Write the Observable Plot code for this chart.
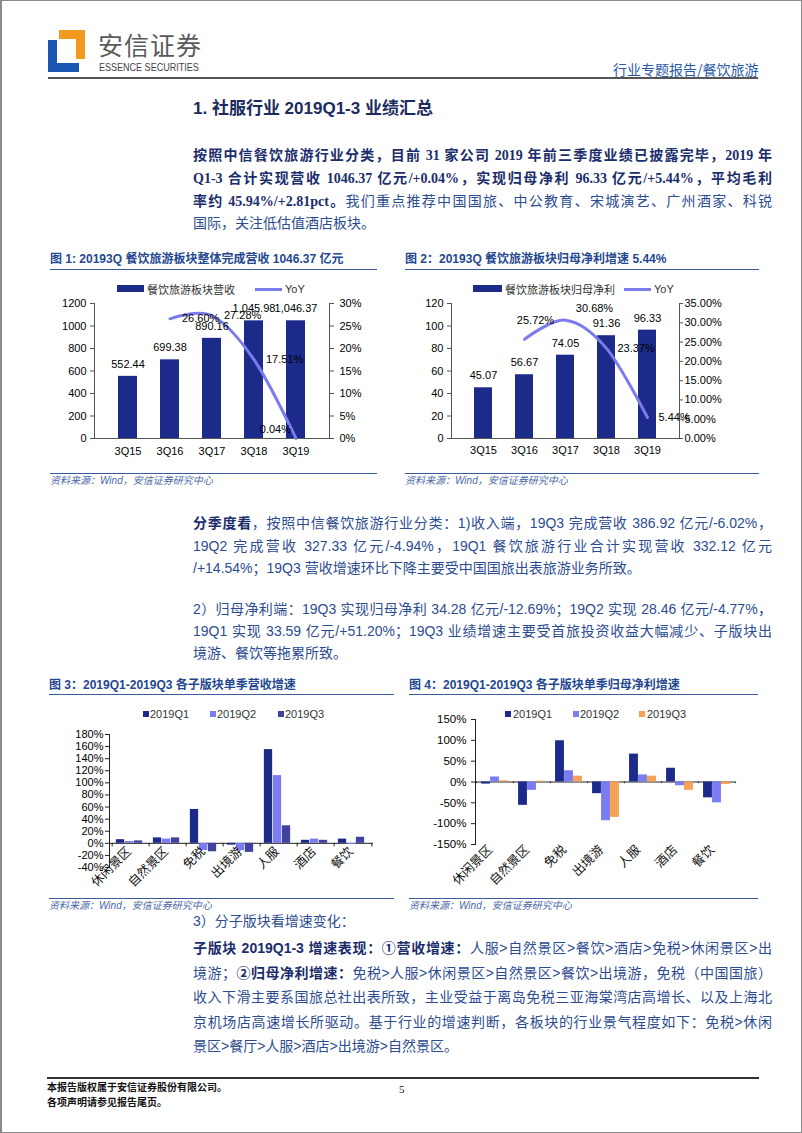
<!DOCTYPE html>
<html><head><meta charset="utf-8">
<script src="https://cdn.jsdelivr.net/npm/d3@7"></script>
<script src="https://cdn.jsdelivr.net/npm/@observablehq/plot@0.6"></script>
<style>
html,body{margin:0;padding:0;background:#fff;}
#page{position:relative;width:802px;height:1133px;overflow:hidden;box-sizing:border-box;border:1px solid #8a8a8a;border-left:2px solid #8a8a8a;font-family:"Noto Sans CJK SC","Liberation Sans",sans-serif;background:#fff;}
.a{position:absolute;white-space:nowrap;line-height:20px;}
.p{position:absolute;left:191px;width:579px;line-height:20px;font-size:14px;text-align:justify;text-align-last:justify;color:#2d4c8f;white-space:normal;}
.p.last{text-align-last:left;}
.serif{font-family:"Liberation Serif","Noto Sans CJK SC",serif;}
.sans{font-family:"Liberation Sans","Noto Sans CJK SC",sans-serif;}
b{color:#1b2d6b;font-weight:bold;}
.ctitle{position:absolute;font-size:12px;font-weight:bold;color:#24478f;line-height:20px;white-space:nowrap;font-family:"Liberation Sans","Noto Sans CJK SC",sans-serif;}
.uline{position:absolute;height:0;border-top:1.5px solid #3a5aa0;}
.src{position:absolute;font-size:10px;font-style:italic;color:#4a68a8;line-height:20px;white-space:nowrap;font-family:"Liberation Sans","Noto Sans CJK SC",sans-serif;}
.chart{position:absolute;}
.leg{position:absolute;font-size:11px;line-height:14px;white-space:nowrap;color:#333;font-family:"Liberation Sans","Noto Sans CJK SC",sans-serif;}
.sw{position:absolute;}
</style>
</head><body><div id="page">
<svg class="a" style="left:46px;top:29px" width="38" height="43">
 <polygon points="11,0 37,0 37,29 28,29 28,9 11,9" fill="#f39a1e"/>
 <polygon points="0,10 9,10 9,33 31,33 31,42 0,42" fill="#1b57b3"/>
</svg>
<div class="a" style="left:96px;top:28px;font-size:25px;line-height:30px;color:#5a5a5a;letter-spacing:1px">安信证券</div>
<div class="a" style="left:97px;top:59px;font-size:11px;line-height:14px;color:#444;font-family:'Liberation Sans',sans-serif;transform:scaleX(0.82);transform-origin:left">ESSENCE SECURITIES</div>
<div class="a" style="left:611px;top:58px;font-size:14px;color:#2a58a8">行业专题报告/餐饮旅游</div>
<div class="a" style="left:46px;top:76px;width:710px;height:2px;background:#555"></div>

<div class="a" style="left:191px;top:97px;font-size:17px;line-height:22px;font-weight:bold;color:#1b2b5e;font-family:'Liberation Sans','Noto Sans CJK SC',sans-serif">1. 社服行业 2019Q1-3 业绩汇总</div>

<div class="p serif" style="top:145px"><b>按照中信餐饮旅游行业分类，目前 31 家公司 2019 年前三季度业绩已披露完毕，2019 年</b></div>
<div class="p serif" style="top:168px"><b>Q1-3 合计实现营收 1046.37 亿元/+0.04%，实现归母净利 96.33 亿元/+5.44%，平均毛利</b></div>
<div class="p serif" style="top:191px"><b>率约 45.94%/+2.81pct。</b>我们重点推荐中国国旅、中公教育、宋城演艺、广州酒家、科锐</div>
<div class="p serif last" style="top:213px">国际，关注低估值酒店板块。</div>

<div class="ctitle" style="left:48px;top:248px">图 1: 20193Q 餐饮旅游板块整体完成营收 1046.37 亿元</div>
<div class="uline" style="left:48px;top:268px;width:327px"></div>
<div class="ctitle" style="left:403px;top:248px">图 2：20193Q 餐饮旅游板块归母净利增速 5.44%</div>
<div class="uline" style="left:403px;top:268px;width:354px"></div>

<div class="chart" id="c1" style="left:40px;top:290px"></div>
<div class="chart" id="c2" style="left:400px;top:290px"></div>
<div id="legends"></div>

<div class="uline" style="left:48px;top:472px;width:327px"></div>
<div class="src" style="left:48px;top:470px">资料来源：Wind，安信证券研究中心</div>
<div class="uline" style="left:403px;top:472px;width:354px"></div>
<div class="src" style="left:403px;top:470px">资料来源：Wind，安信证券研究中心</div>

<div class="p sans" style="top:512px"><b>分季度看</b>，按照中信餐饮旅游行业分类：1)收入端，19Q3 完成营收 386.92 亿元/-6.02%，</div>
<div class="p sans" style="top:535px">19Q2 完成营收 327.33 亿元/-4.94%，19Q1 餐饮旅游行业合计实现营收 332.12 亿元</div>
<div class="p sans last" style="top:557px">/+14.54%；19Q3 营收增速环比下降主要受中国国旅出表旅游业务所致。</div>

<div class="p sans" style="top:598px">2）归母净利端：19Q3 实现归母净利 34.28 亿元/-12.69%；19Q2 实现 28.46 亿元/-4.77%，</div>
<div class="p sans" style="top:620px">19Q1 实现 33.59 亿元/+51.20%；19Q3 业绩增速主要受首旅投资收益大幅减少、子版块出</div>
<div class="p sans last" style="top:642px">境游、餐饮等拖累所致。</div>

<div class="ctitle" style="left:47px;top:674px">图 3：2019Q1-2019Q3 各子版块单季营收增速</div>
<div class="uline" style="left:47px;top:693px;width:345px"></div>
<div class="ctitle" style="left:407px;top:674px">图 4：2019Q1-2019Q3 各子版块单季归母净利增速</div>
<div class="uline" style="left:407px;top:693px;width:349px"></div>

<div class="chart" id="c3" style="left:40px;top:722px"></div>
<div class="chart" id="c4" style="left:400px;top:708px"></div>

<div class="uline" style="left:47px;top:897px;width:345px"></div>
<div class="src" style="left:47px;top:895px">资料来源：Wind，安信证券研究中心</div>
<div class="uline" style="left:407px;top:897px;width:349px"></div>
<div class="src" style="left:407px;top:895px">资料来源：Wind，安信证券研究中心</div>

<div class="p sans last" style="top:910px">3）分子版块看增速变化：</div>
<div class="p sans" style="top:937px"><b>子版块 2019Q1-3 增速表现：①营收增速：</b>人服>自然景区>餐饮>酒店>免税>休闲景区>出</div>
<div class="p sans" style="top:962px">境游；<b>②归母净利增速：</b>免税>人服>休闲景区>自然景区>餐饮>出境游，免税（中国国旅）</div>
<div class="p sans" style="top:986px">收入下滑主要系国旅总社出表所致，主业受益于离岛免税三亚海棠湾店高增长、以及上海北</div>
<div class="p sans" style="top:1011px">京机场店高速增长所驱动。基于行业的增速判断，各板块的行业景气程度如下：免税>休闲</div>
<div class="p sans last" style="top:1035px">景区>餐厅>人服>酒店>出境游>自然景区。</div>

<div class="a" style="left:45px;top:1076px;width:712px;height:1.5px;background:#333"></div>
<div class="a" style="left:45px;top:1078px;font-size:10px;line-height:16px;font-weight:bold;color:#111">本报告版权属于安信证券股份有限公司。</div>
<div class="a" style="left:45px;top:1093px;font-size:10px;line-height:16px;font-weight:bold;color:#111">各项声明请参见报告尾页。</div>
<div class="a" style="left:397px;top:1080px;font-size:11px;line-height:16px;color:#111;font-family:'Liberation Serif',serif">5</div>
</div>
<script>
// ---------- data ----------
const quarters = ["3Q15", "3Q16", "3Q17", "3Q18", "3Q19"];
const revenue = [552.44, 699.38, 890.16, 1045.98, 1046.37];
const revenueYoY = [null, 26.60, 27.28, 17.51, 0.04];
const profit = [45.07, 56.67, 74.05, 91.36, 96.33];
const profitYoY = [null, 25.72, 30.68, 23.37, 5.44];
const revLegend = ["餐饮旅游板块营收", "YoY"];
const profLegend = ["餐饮旅游板块归母净利", "YoY"];

const sectors = ["休闲景区", "自然景区", "免税", "出境游", "人服", "酒店", "餐饮"];
const seasons = ["2019Q1", "2019Q2", "2019Q3"];
const revGrowthQ1 = [6, 9, 56, -3, 155, 5, 7];
const revGrowthQ2 = [3, 7, -12, -12, 112, 7, -2];
const revGrowthQ3 = [4, 9, -14, -15, 29, 5, 10];
const profitGrowthQ1 = [-5, -56, 99, -28, 67, 33, -38];
const profitGrowthQ2 = [12, -20, 27, -93, 17, -9, -50];
const profitGrowthQ3 = [3, 2, 14, -85, 14, -20, -6];

const revTicks = [0, 200, 400, 600, 800, 1000, 1200];
const revPctTicks = [0, 5, 10, 15, 20, 25, 30];
const profTicks = [0, 20, 40, 60, 80, 100, 120];
const profPctTicks = [0, 5, 10, 15, 20, 25, 30, 35];
const growthTicks3 = [-40, -20, 0, 20, 40, 60, 80, 100, 120, 140, 160, 180];
const growthTicks4 = [-150, -100, -50, 0, 50, 100, 150];

// ---------- styles ----------
const NAVY = "#1c2a8a", LINE = "#7b7bee";
const colors3 = ["#1c2a8a", "#7b7bf2", "#41419f"];
const colors4 = ["#1c2a8a", "#7b7bf2", "#f5a256"];
const AX = "#555";
const base = {fontFamily: '"Liberation Sans", Arial, sans-serif', fontSize: "11px", color: "#000", background: "transparent", overflow: "visible"};
const CJK = '"Noto Sans CJK SC", sans-serif';
const fmtNum = v => v >= 1000 ? d3.format(",.2f")(v) : v.toFixed(2);

// ---------- chart 1 ----------
const F1 = 1200 / 30;
const rows1 = quarters.map((q, i) => ({q, v: revenue[i], yoy: revenueYoY[i]}));
const line1 = rows1.filter(d => d.yoy != null);
const c1 = Plot.plot({
  width: 330, height: 180, marginLeft: 52, marginRight: 43, marginTop: 12, marginBottom: 33,
  style: base,
  x: {domain: quarters, padding: 0.55, label: null, axis: null},
  y: {domain: [0, 1200], label: null, axis: null},
  marks: [
    Plot.barY(rows1, {x: "q", y: "v", fill: NAVY}),
    Plot.ruleY([0], {stroke: AX}),
    Plot.frame({anchor: "left", stroke: AX}),
    Plot.frame({anchor: "right", stroke: AX}),
    Plot.axisY({anchor: "left", ticks: revTicks, tickFormat: d => String(d), tickSize: 4, tickPadding: 4, label: null, stroke: AX}),
    Plot.axisY({anchor: "right", ticks: revPctTicks.map(p => p * F1), tickFormat: d => Math.round(d / F1) + "%", tickSize: 4, tickPadding: 6, label: null, stroke: AX}),
    Plot.axisX({anchor: "bottom", tickSize: 0, tickPadding: 9, label: null}),
    Plot.line(line1, {x: "q", y: d => d.yoy * F1, stroke: LINE, strokeWidth: 3, curve: "cardinal"}),
    Plot.text(rows1, {x: "q", y: "v", text: d => fmtNum(d.v), dy: -12}),
    Plot.text(line1.slice(0, 3), {x: "q", y: d => d.yoy * F1, text: d => d.yoy.toFixed(2) + "%", textAnchor: "start", dx: 12}),
    Plot.text(line1.slice(3), {x: "q", y: d => d.yoy * F1, text: d => d.yoy.toFixed(2) + "%", textAnchor: "end", dx: -5, dy: -9})
  ]
});
document.getElementById("c1").append(c1);

// ---------- chart 2 ----------
const F2 = 120 / 35;
const rows2 = quarters.map((q, i) => ({q, v: profit[i], yoy: profitYoY[i]}));
const line2 = rows2.filter(d => d.yoy != null);
const pct2 = d => d.yoy.toFixed(2) + "%";
const c2 = Plot.plot({
  width: 350, height: 180, marginLeft: 49, marginRight: 73, marginTop: 12, marginBottom: 33,
  style: base,
  x: {domain: quarters, padding: 0.55, label: null, axis: null},
  y: {domain: [0, 120], label: null, axis: null},
  marks: [
    Plot.barY(rows2, {x: "q", y: "v", fill: NAVY}),
    Plot.ruleY([0], {stroke: AX}),
    Plot.frame({anchor: "left", stroke: AX}),
    Plot.frame({anchor: "right", stroke: AX}),
    Plot.axisY({anchor: "left", ticks: profTicks, tickFormat: d => String(d), tickSize: 4, tickPadding: 4, label: null, stroke: AX}),
    Plot.axisY({anchor: "right", ticks: profPctTicks.map(p => p * F2), tickFormat: d => (d / F2).toFixed(2) + "%", tickSize: 3, tickPadding: 2, label: null, stroke: AX}),
    Plot.axisX({anchor: "bottom", tickSize: 0, tickPadding: 8, label: null}),
    Plot.line(line2, {x: "q", y: d => d.yoy * F2, stroke: LINE, strokeWidth: 3, curve: "cardinal"}),
    Plot.text(rows2, {x: "q", y: "v", text: d => fmtNum(d.v), dy: -12}),
    Plot.text(line2.slice(0, 1), {x: "q", y: d => d.yoy * F2, text: pct2, dx: 11, dy: -19}),
    Plot.text(line2.slice(1, 2), {x: "q", y: d => d.yoy * F2, text: pct2, dx: 29, dy: -12}),
    Plot.text(line2.slice(2), {x: "q", y: d => d.yoy * F2, text: pct2, textAnchor: "start", dx: 11})
  ]
});
document.getElementById("c2").append(c2);

// ---------- grouped charts ----------
function grouped(q1, q2, q3, cols, opts) {
  const series = [q1, q2, q3];
  const rows = sectors.flatMap((s, i) => seasons.map((k, j) => ({s, k, j, v: series[j][i]})));
  const plotW = opts.width - opts.marginLeft - opts.marginRight;
  const bw = plotW / sectors.length;
  const barW = 9;
  const inset = (bw - barW) / 2;
  const marks = [
    Plot.ruleY([0], {stroke: "#222"}),
    Plot.ruleX(sectors, Object.assign({x: d => d, dx: -bw / 2, strokeWidth: 1, stroke: "#222"}, opts.sepPos)),
    Plot.ruleX(sectors.slice(-1), Object.assign({x: d => d, dx: bw / 2, strokeWidth: 1, stroke: "#222"}, opts.sepPos)),
    Plot.frame({anchor: "left", stroke: "#222"}),
    Plot.axisY({anchor: "left", ticks: opts.ticks, tickFormat: d => d + "%", tickSize: 4, tickPadding: opts.tickPadding, label: null, stroke: "#222", fontSize: opts.tickFont})
  ];
  seasons.forEach((k, j) => {
    marks.push(Plot.barY(rows.filter(d => d.j === j), {x: "s", y: "v", fill: cols[j], insetLeft: inset, insetRight: inset, dx: opts.offsets[j]}));
  });
  marks.push(Plot.text(sectors, Object.assign({x: d => d, text: d => d, rotate: -45, textAnchor: "end", dx: -2, dy: 6, fontFamily: CJK, fontSize: 12.5, fill: "#111"}, opts.labelPos)));
  return Plot.plot({
    width: opts.width, height: opts.height,
    marginLeft: opts.marginLeft, marginRight: opts.marginRight, marginTop: opts.marginTop, marginBottom: opts.marginBottom,
    style: base,
    x: {domain: sectors, padding: 0, axis: null, label: null},
    y: {domain: opts.domain, axis: null, label: null},
    marks
  });
}
const c3 = grouped(revGrowthQ1, revGrowthQ2, revGrowthQ3, colors3, {
  width: 340, height: 170, marginLeft: 67, marginRight: 9, marginTop: 11, marginBottom: 26,
  domain: [-40, 180], ticks: growthTicks3, tickPadding: 2, tickFont: 11,
  offsets: [-10.5, -1.5, 7.5], labelPos: {y: () => 0},
  sepPos: {y1: () => 0, y2: () => -6}
});
document.getElementById("c3").append(c3);
const c4 = grouped(profitGrowthQ1, profitGrowthQ2, profitGrowthQ3, colors4, {
  width: 350, height: 185, marginLeft: 73, marginRight: 17, marginTop: 10, marginBottom: 50,
  domain: [-150, 150], ticks: growthTicks4, tickPadding: 5, tickFont: 11.5,
  offsets: [-9, 0, 9], labelPos: {frameAnchor: "bottom"},
  sepPos: {y1: () => 0, y2: () => -4}
});
document.getElementById("c4").append(c4);

// ---------- legends (HTML, above charts) ----------
const L = document.getElementById("legends");
function sw(x, y, w, h, color) {
  const e = document.createElement("div");
  e.className = "sw"; e.style.cssText = `left:${x}px;top:${y}px;width:${w}px;height:${h}px;background:${color}`;
  L.append(e);
}
function lt(x, y, t, font) {
  const e = document.createElement("div");
  e.className = "leg"; e.style.left = x + "px"; e.style.top = (y - 7) + "px"; e.textContent = t;
  if (font) e.style.fontFamily = font;
  L.append(e);
}
sw(115, 284, 27, 7, NAVY); lt(145, 288, revLegend[0], CJK);
sw(253, 286.5, 27, 3, LINE); lt(283, 288, revLegend[1]);
sw(471, 284, 29, 7, NAVY); lt(503, 288, profLegend[0], CJK);
sw(622, 286.5, 27, 3, LINE); lt(652, 288, profLegend[1]);
[[141, 148], [208, 215], [276, 283]].forEach(([sx, tx], j) => { sw(sx, 710, 6, 6, colors3[j]); lt(tx, 713, seasons[j]); });
[[503, 511], [571, 578], [637, 645]].forEach(([sx, tx], j) => { sw(sx, 710, 6, 6, colors4[j]); lt(tx, 713, seasons[j]); });
</script>
</body></html>
